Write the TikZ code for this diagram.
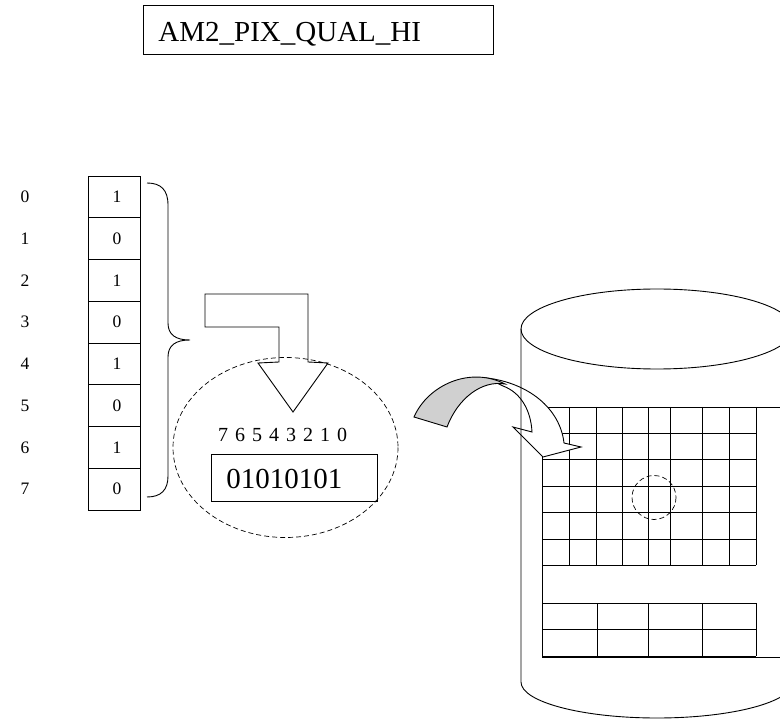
\documentclass[tikz,border=0pt]{standalone}
\usepackage{fontspec}
\setmainfont{Liberation Serif}
\usepackage{tikz}
\usetikzlibrary{calc}
\definecolor{foldgray}{RGB}{208,208,208}
\newcommand{\bigsize}{\fontsize{29}{31}\selectfont}

\begin{document}
\begin{tikzpicture}[x=1pt,y=-1pt,line width=0.9pt,
	lbl/.style={inner sep=0pt,font=\fontsize{17.5}{18}\selectfont},
	dashline/.style={dash pattern=on 5pt off 3pt,line width=0.7pt}]

	\useasboundingbox (0,0) rectangle (780,719);
	\clip (0,0) rectangle (780,719);

	% title box
	\draw (143,5) rectangle (493,54);
	\node[anchor=base west,inner sep=0pt] (title) at (158,42){\bigsize AM2\_PIX\_QUAL\_HI};

	% bit column with indices
	\foreach \b [count=\i from 0] in {1,0,1,0,1,0,1,0}{
		\draw (88,176+41.75*\i) rectangle (140,217.75+41.75*\i);
		\node[lbl] (bit\i) at (117,197+41.75*\i){\b};
		\node[lbl] (idx\i) at (25,197+41.75*\i){\i};
	}

	% brace
	\draw (147,183) .. controls (161,183) and (168,190) .. (168,205) -- (168,323)
		.. controls (168,335) and (176,340) .. (190,340)
		.. controls (176,340) and (168,345) .. (168,357) -- (168,476)
		.. controls (168,490) and (161,497) .. (147,497);

	% bent arrow
	\draw (205,294) -- (308,294) -- (308,362) -- (328,363) -- (293,412) -- (258,363)
		-- (279,362) -- (279,327) -- (205,327) -- cycle;

	% packed byte
	\draw[dashline] (285.5,447.5) ellipse[x radius=112.5,y radius=90];
	\node[inner sep=0pt,font=\fontsize{20}{20}\selectfont] (order) at (282.5,435){\spaceskip=7pt 7 6 5 4 3 2 1 0};
	\draw (211,454) rectangle (377,501);
	\node[anchor=west,inner sep=0pt] (byte) at (226,479){\bigsize 01010101};

	% pixel grid
	\foreach \x in {542,569,596,622,648,670,702,729,756}
		\draw (\x,407) -- (\x,565);
	\foreach \y in {407,433,459,486,512,539,565}
		\draw (542,\y) -- (756,\y);
	\draw (756,407) -- (780,407);
	\draw (542,565) -- (542,657) -- (780,657);
	\foreach \x in {542,597,648,702,756}
		\draw (\x,603) -- (\x,656);
	\foreach \y in {603,629,656}
		\draw (542,\y) -- (756,\y);
	\draw[dashline] (654,497.5) circle[radius=22]; %one pixel

	% curved arrow
	\draw[fill=white] (487,378) .. controls (528,383) and (560,408) .. (564,443) -- (581,447)
		-- (543,457) -- (513,427) -- (532,432) .. controls (531,412) and (522,393) .. (503,386) -- cycle;
	\draw[fill=foldgray] (414,417) .. controls (428,385) and (470,366) .. (505,384)
		.. controls (482,380) and (458,398) .. (447,427) -- cycle;

	% cylinder
	\draw (657,329) ellipse[x radius=136,y radius=40];
	\draw (521,329) -- (521,682) arc[start angle=180,end angle=0,x radius=136,y radius=36];

\end{tikzpicture}
\end{document}
